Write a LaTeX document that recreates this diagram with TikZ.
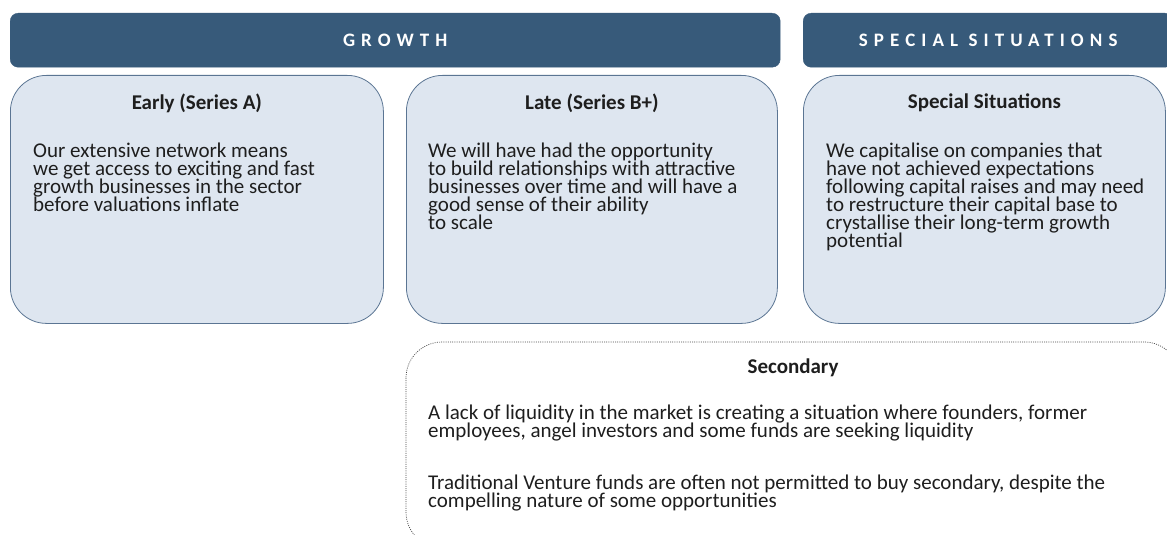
\documentclass[tikz,border=0pt]{standalone}
\usepackage{fontspec}
\setmainfont{Carlito}
\usetikzlibrary{positioning}

\definecolor{hdrblue}{HTML}{375A7A}
\definecolor{cardfill}{HTML}{DEE6F0}
\definecolor{cardline}{HTML}{5B7593}
\definecolor{bodytxt}{HTML}{1E1E1E}

\newcommand{\cardfont}{\fontsize{21}{18}\selectfont\lineskiplimit=-20pt}

\begin{document}
\begin{tikzpicture}[x=1pt, y=-1pt, line join=round,
	header/.style={fill=hdrblue, draw=hdrblue, rounded corners=8pt, anchor=north west,
		minimum height=54pt, inner sep=0pt, text=white,
		font=\fontsize{19}{19}\selectfont\bfseries\addfontfeature{LetterSpace=32}},
	card/.style={fill=cardfill, draw=cardline, line width=0.8pt, rounded corners=36pt,
		anchor=north west, minimum height=248pt, inner sep=0pt},
	cardtitle/.style={inner sep=0pt, text=bodytxt, font=\cardfont\bfseries},
	cardtext/.style={inner sep=0pt, anchor=north west, align=left, text=bodytxt,
		font=\cardfont}]
	
	\useasboundingbox (0,0) rectangle (1167,535);
	
	% column headers
	\node[header, minimum width=770pt] (hgrowth) at (10,13) {GROWTH};
	\node[header, minimum width=370pt] (hspecial) at (803,13) {SPECIAL SITUATIONS};
	
	% the three cards
	\node[card, minimum width=373pt] (early) at (10,75) {};
	\node[card, minimum width=371pt] (late) at (406,75) {};
	\node[card, minimum width=362pt] (special) at (803,75) {};
	
	% secondary, dotted outline (runs off the page right and below)
	\draw[gray!55!black, line width=0.7pt, dash pattern=on 1pt off 1.2pt, rounded corners=36pt]
		(406,342) rectangle (1180,548);
	
	\node[cardtitle, below=19pt of early.north] (earlyT) {Early (Series A)};
	\node[cardtitle, below=19pt of late.north] (lateT) {Late (Series B+)};
	\node[cardtitle, below=19pt of special.north] (specialT) {Special Situations};
	\node[cardtitle] (secT) at (793,368) {Secondary};
	
	\node[cardtext] (earlyB) at (33,143) {Our extensive network means\\
		we get access to exciting and fast\\
		growth businesses in the sector\\
		before valuations inflate};
	\node[cardtext] (lateB) at (428,143) {We will have had the opportunity\\
		to build relationships with attractive\\
		businesses over time and will have a\\
		good sense of their ability\\
		to scale};
	\node[cardtext] (specialB) at (826,143) {We capitalise on companies that\\
		have not achieved expectations\\
		following capital raises and may need\\
		to restructure their capital base to\\
		crystallise their long-term growth\\
		potential};
	\node[cardtext] (secB) at (428,405) {A lack of liquidity in the market is creating a situation where founders, former\\
		employees, angel investors and some funds are seeking liquidity\\[34pt]
		Traditional Venture funds are often not permitted to buy secondary, despite the\\
		compelling nature of some opportunities};
	
\end{tikzpicture}
\end{document}
